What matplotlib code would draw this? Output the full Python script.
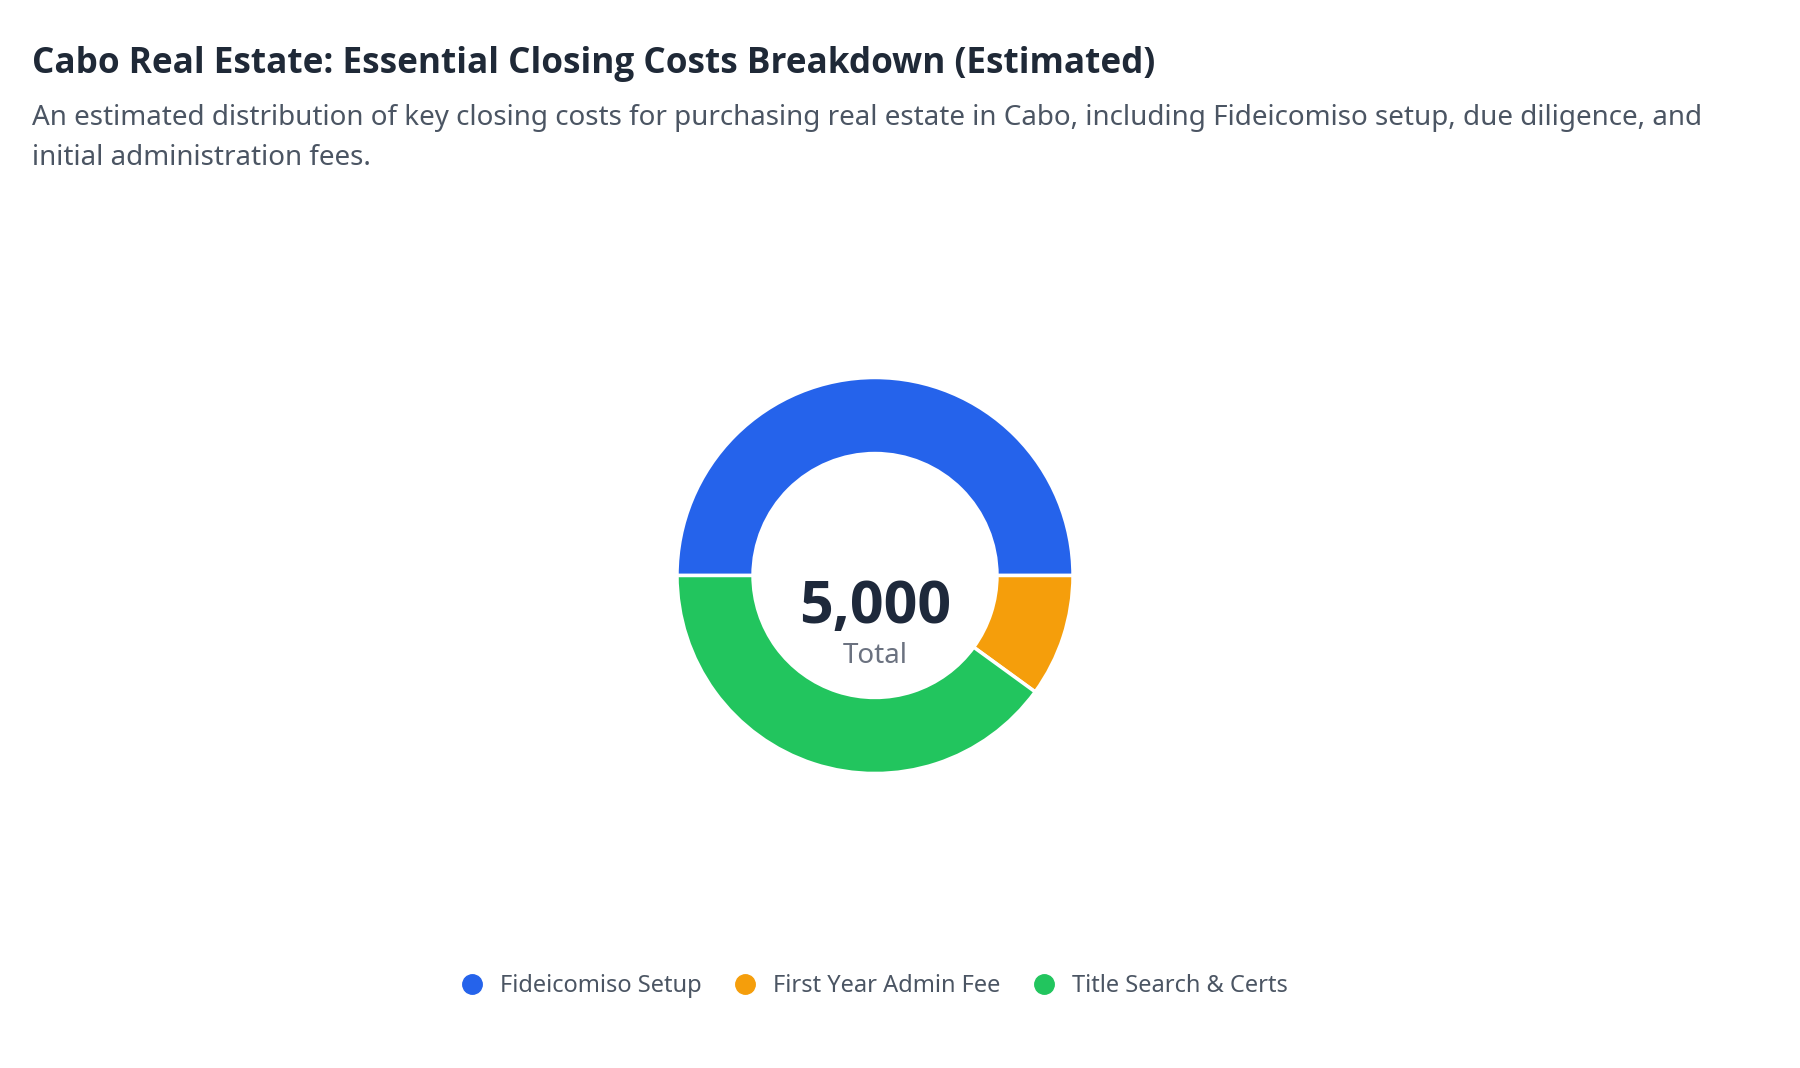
import matplotlib
matplotlib.use("Agg")
import matplotlib.pyplot as plt
from matplotlib.lines import Line2D
from matplotlib import font_manager as fm

categories = ["Fideicomiso Setup", "First Year Admin Fee", "Title Search & Certs"]
values = [2500, 500, 2000]
colors = ["#2563eb", "#f59e0b", "#22c55e"]
title = "Cabo Real Estate: Essential Closing Costs Breakdown (Estimated)"
subtitle_lines = ["An estimated distribution of key closing costs for purchasing real estate in Cabo, including Fideicomiso setup, due diligence, and",
                  "initial administration fees."]
center_label = "Total"

plt.rcParams['font.family'] = ['Noto Sans', 'DejaVu Sans']

# find a bold face
bold_family = 'Open Sans'
for f in fm.fontManager.ttflist:
    if f.name == 'Noto Sans' and (f.weight == 700 or f.weight == 'bold'):
        bold_family = 'Noto Sans'
        break

W, H = 1800, 1068
fig = plt.figure(figsize=(W / 100, H / 100), dpi=100)
fig.patch.set_facecolor("white")

cx, cy, r = 875, 575.5, 198
ax = fig.add_axes([(cx - r) / W, (H - cy - r) / H, 2 * r / W, 2 * r / H])
ax.pie(values, colors=colors, startangle=180, counterclock=False, radius=1,
       wedgeprops=dict(width=0.384, edgecolor="white", linewidth=2.5))
ax.set_xlim(-1, 1)
ax.set_ylim(-1, 1)
ax.set_aspect("equal")
ax.axis("off")

fig.text(32 / W, 1 - 73 / H, title, fontsize=25.3, fontweight="bold", family=[bold_family, 'DejaVu Sans'],
         color="#1f2937", va="baseline", ha="left")
fig.text(32 / W, 1 - 125 / H, subtitle_lines[0], fontsize=20.0, color="#4b5563", va="baseline", ha="left")
fig.text(32 / W, 1 - 165 / H, subtitle_lines[1], fontsize=20.0, color="#4b5563", va="baseline", ha="left")

total = sum(values)
fig.text(cx / W, 1 - 623 / H, f"{total:,}", fontsize=42.5, fontweight="bold", family=[bold_family, 'DejaVu Sans'],
         color="#1e293b", va="baseline", ha="center")
fig.text(cx / W, 1 - 663 / H, center_label, fontsize=20, color="#6b7280", va="baseline", ha="center")

handles = [Line2D([0], [0], marker="o", linestyle="", markersize=14, markerfacecolor=c, markeredgecolor=c)
           for c in colors]
leg = fig.legend(handles, categories, loc="center", bbox_to_anchor=(874 / W, 1 - 986 / H), ncol=3,
                 frameon=False, fontsize=17, handletextpad=0.7, columnspacing=1.33, handlelength=1.0)
for t in leg.get_texts():
    t.set_color("#4b5563")

fig.savefig("out.png", dpi=100, facecolor="white")
